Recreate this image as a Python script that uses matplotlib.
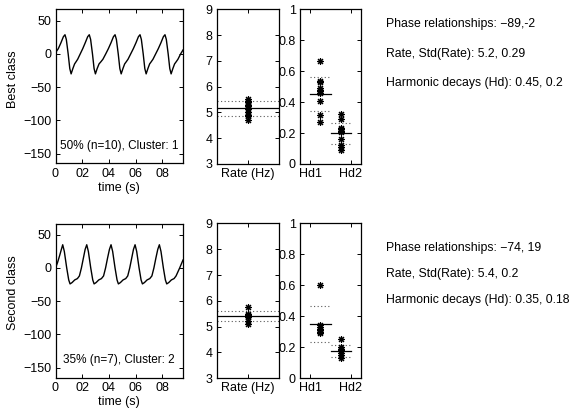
import matplotlib
matplotlib.use("Agg")
import matplotlib.pyplot as plt

plt.rcParams["font.family"] = ["Liberation Sans", "DejaVu Sans"]

# Wellenformen (Zeit in s, Amplitude)
best_t = [0.000, 0.021, 0.041, 0.059, 0.071, 0.081, 0.095, 0.107, 0.117,
          0.130, 0.143, 0.153, 0.166, 0.185, 0.204, 0.223, 0.241, 0.253, 0.263, 0.277, 0.289, 0.299,
          0.312, 0.326, 0.339, 0.355, 0.376, 0.396, 0.416, 0.434, 0.446, 0.456, 0.470, 0.482, 0.492,
          0.505, 0.518, 0.529, 0.543, 0.563, 0.583, 0.603, 0.621, 0.633, 0.643, 0.657, 0.669, 0.679,
          0.692, 0.705, 0.716, 0.730, 0.750, 0.770, 0.790, 0.808, 0.820, 0.830, 0.844, 0.856, 0.866,
          0.879, 0.892, 0.903, 0.917, 0.937, 0.955]
best_v = [2, 8, 17, 26, 29, 22, 0, -22, -30,
          -22, -15, -12, -8, 0, 8, 17, 26, 29, 22, 0, -22, -30,
          -22, -15, -12, -8, 0, 8, 17, 26, 29, 22, 0, -22, -30,
          -22, -15, -12, -8, 0, 8, 17, 26, 29, 22, 0, -22, -30,
          -22, -15, -12, -8, 0, 8, 17, 26, 29, 22, 0, -22, -30,
          -22, -15, -12, -8, 0, 6]

second_t = [0.000, 0.015, 0.030, 0.044, 0.054,
            0.066, 0.084, 0.099, 0.109, 0.124, 0.144, 0.164, 0.179, 0.194, 0.209, 0.222, 0.234,
            0.246, 0.264, 0.279, 0.289, 0.304, 0.324, 0.344, 0.360, 0.375, 0.390, 0.404, 0.416,
            0.428, 0.446, 0.461, 0.471, 0.486, 0.506, 0.526, 0.541, 0.556, 0.571, 0.584, 0.596,
            0.608, 0.626, 0.641, 0.651, 0.666, 0.686, 0.706, 0.722, 0.737, 0.752, 0.766, 0.778,
            0.790, 0.808, 0.823, 0.833, 0.848, 0.868, 0.888, 0.903, 0.930, 0.955]
second_v = [0, 8, 18, 28, 35,
            25, 0, -18, -24, -22, -18, -16, -12, 0, 15, 28, 35,
            25, 0, -18, -24, -22, -18, -16, -12, 0, 15, 28, 35,
            25, 0, -18, -24, -22, -18, -16, -12, 0, 15, 28, 35,
            25, 0, -18, -24, -22, -18, -16, -12, 0, 15, 28, 35,
            25, 0, -18, -24, -22, -18, -16, -12, 0, 12]

# Einzelwerte pro Klasse
best_rate = [5.52, 5.45, 5.4, 5.3, 5.25, 5.15, 5.0, 4.9, 4.85, 4.7]
best_hd1 = [0.665, 0.54, 0.53, 0.49, 0.48, 0.47, 0.46, 0.405, 0.315, 0.27]
best_hd2 = [0.325, 0.29, 0.235, 0.225, 0.215, 0.205, 0.16, 0.125, 0.11, 0.09]
second_rate = [5.75, 5.5, 5.45, 5.4, 5.35, 5.2, 5.1]
second_hd1 = [0.605, 0.34, 0.33, 0.32, 0.31, 0.3, 0.29]
second_hd2 = [0.255, 0.2, 0.19, 0.18, 0.165, 0.15, 0.13]

# Mittelwert / Streuung
best_rate_stat = (5.17, 0.29)
best_hd_stat = [(0.45, 0.11), (0.2, 0.068)]
second_rate_stat = (5.4, 0.2)
second_hd_stat = [(0.35, 0.115), (0.175, 0.037)]

class_names = ["Best class", "Second class"]
cluster_texts = ["50% (n=10), Cluster: 1", "35% (n=7), Cluster: 2"]
info_texts = [
    ["Phase relationships: \u221289,-2", "Rate, Std(Rate): 5.2, 0.29",
     "Harmonic decays (Hd): 0.45, 0.2"],
    ["Phase relationships: \u221274, 19", "Rate, Std(Rate): 5.4, 0.2",
     "Harmonic decays (Hd): 0.35, 0.18"],
]

W, H = 574, 411
FS = 9
DOT = (0, (1, 2.2))
STAR = dict(marker=(8, 2, 0), color="k", markersize=5, markeredgewidth=0.8,
            linestyle="none")


def box(ax):
    for s in ax.spines.values():
        s.set_linewidth(0.9)
    ax.tick_params(direction="in", length=3, width=0.7, top=True, right=True,
                   labelsize=FS, pad=3)


def px_axes(fig, left, top, right, bottom):
    return fig.add_axes([left / W, 1 - bottom / H, (right - left) / W,
                         (bottom - top) / H])


fig = plt.figure(figsize=(W / 100, H / 100), dpi=100)

rows = [
    dict(t=best_t, v=best_v, rate=best_rate, hd=[best_hd1, best_hd2],
         rs=best_rate_stat, hs=best_hd_stat, top=9.5, bottom=163.5,
         text_y=[24, 53.5, 83]),
    dict(t=second_t, v=second_v, rate=second_rate, hd=[second_hd1, second_hd2],
         rs=second_rate_stat, hs=second_hd_stat, top=223.5, bottom=377.5,
         text_y=[248, 274, 300]),
]

for i, r in enumerate(rows):
    # Wellenform
    ax = px_axes(fig, 55.5, r["top"], 183, r["bottom"])
    ax.plot(r["t"], r["v"], color="k", lw=1.0)
    ax.set_xlim(0, 0.955)
    ax.set_ylim(-165, 67)
    ax.set_xticks([0, 0.2, 0.4, 0.6, 0.8])
    ax.set_xticklabels(["0", "02", "04", "06", "08"])
    ax.set_yticks([-150, -100, -50, 0, 50])
    box(ax)
    ax.set_xlabel("time (s)", fontsize=FS, labelpad=2)
    ax.set_ylabel(class_names[i], fontsize=FS)
    ax.yaxis.set_label_coords(-0.29, 0.55)
    ax.text(0.5, 0.115, cluster_texts[i], transform=ax.transAxes,
            ha="center", va="center", fontsize=8.5)

    # Rate
    ax = px_axes(fig, 217, r["top"], 279, r["bottom"] + 0.5)
    m, s = r["rs"]
    ax.plot([0, 2], [m, m], color="k", lw=0.9)
    ax.plot([0, 2], [m + s, m + s], color="0.35", lw=0.8, linestyle=DOT)
    ax.plot([0, 2], [m - s, m - s], color="0.35", lw=0.8, linestyle=DOT)
    ax.plot([1] * len(r["rate"]), r["rate"], **STAR)
    ax.set_xlim(0, 2)
    ax.set_ylim(3, 9)
    ax.set_xticks([1])
    ax.set_xticklabels(["Rate (Hz)"])
    ax.set_yticks(range(3, 10))
    box(ax)

    # Harmonic decays
    ax = px_axes(fig, 300, r["top"], 361, r["bottom"] + 0.5)
    for k, (vals, (m, s)) in enumerate(zip(r["hd"], r["hs"])):
        x0, x1 = 0.5 + k, 1.5 + k
        ax.plot([x0, x1], [m, m], color="k", lw=0.9)
        ax.plot([x0, x1], [m + s, m + s], color="0.35", lw=0.8, linestyle=DOT)
        ax.plot([x0, x1], [m - s, m - s], color="0.35", lw=0.8, linestyle=DOT)
        ax.plot([1 + k] * len(vals), vals, **STAR)
    ax.set_xlim(0, 3)
    ax.set_ylim(0, 1)
    ax.set_xticks([0.5, 2.5])
    ax.set_xticklabels(["Hd1", "Hd2"])
    ax.set_yticks([0, 0.2, 0.4, 0.6, 0.8, 1])
    ax.set_yticklabels(["0", "0.2", "0.4", "0.6", "0.8", "1"])
    box(ax)

    for txt, y in zip(info_texts[i], r["text_y"]):
        fig.text(386 / W, 1 - y / H, txt, ha="left", va="center", fontsize=8.8)

fig.savefig("out.png", dpi=100)
